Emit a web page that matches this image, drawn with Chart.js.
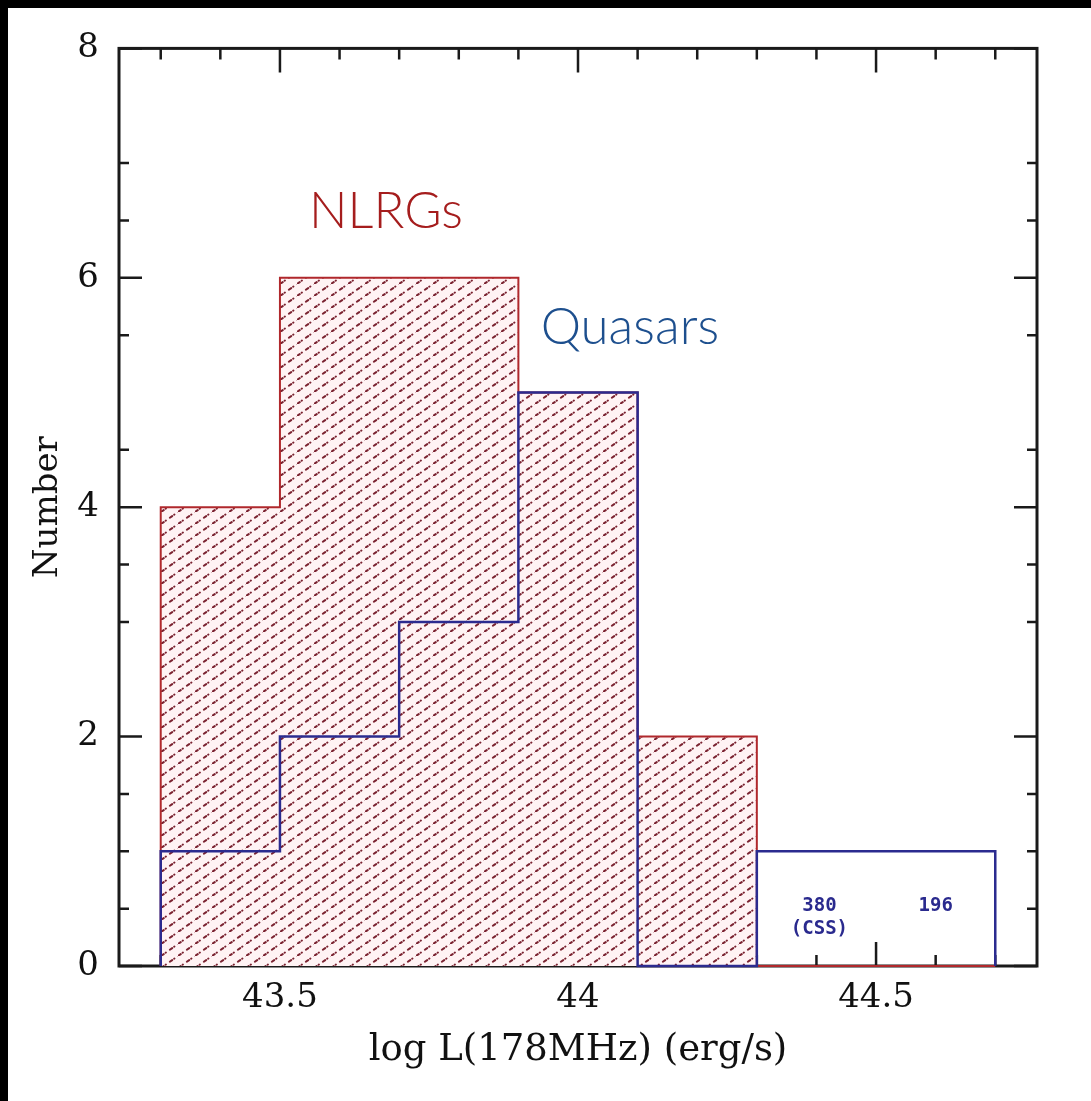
<!DOCTYPE html>
<html>
<head>
<meta charset="utf-8">
<script src="https://cdn.jsdelivr.net/npm/chart.js@4/dist/chart.umd.min.js"></script>
<style>
  html, body { margin: 0; padding: 0; background: #000; }
  #wrap { position: absolute; left: 8px; top: 8px; width: 1083px; height: 1093px; background: #fff; }
</style>
</head>
<body>
<div id="wrap"><canvas id="histo" width="1083" height="1093"></canvas></div>
<script>
// bin edges of the histogram (log L at 178 MHz)
const binEdges = [43.3, 43.5, 43.7, 43.9, 44.1, 44.3, 44.5, 44.7];
// counts per bin
const nlrgCounts = [4, 6, 6, 5, 2, 0, 0];
const quasarCounts = [1, 2, 3, 5, 0, 1, 1];

// axis ticks
const xLabelTicks = [43.5, 44, 44.5];
const xMinorTicks = [43.3, 43.4, 43.6, 43.7, 43.8, 43.9, 44.1, 44.2, 44.3, 44.4, 44.6, 44.7];
const yLabelTicks = [0, 2, 4, 6, 8];
const yMinorTicks = [0.5, 1, 1.5, 3, 3.5, 4.5, 5.5, 6.5, 7];

// notes on the plot
const seriesNotes = [
    { text: 'NLRGs', x: 43.678, y: 6.58, color: '#a51d1d' },
    { text: 'Quasars', x: 44.087, y: 5.57, color: '#1d4f8e' }
];
const sourceNotes = [
    { text: '380', x: 44.405, y: 0.52 },
    { text: '(CSS)', x: 44.405, y: 0.32 },
    { text: '196', x: 44.6, y: 0.52 }
];

// turn counts into step points
function stepPoints(counts) {
    const pts = [{ x: binEdges[0], y: 0 }];
    counts.forEach((c, i) => pts.push({ x: binEdges[i], y: c }));
    pts.push({ x: binEdges[binEdges.length - 1], y: 0 });
    return pts;
}

// dotted diagonal hatch
function makeHatch() {
    const w = 17, h = 12;
    const c = document.createElement('canvas');
    c.width = w; c.height = h;
    const g = c.getContext('2d');
    g.fillStyle = '#fff3f4';
    g.fillRect(0, 0, w, h);
    g.strokeStyle = '#7a2230';
    g.lineWidth = 2;
    g.lineCap = 'round';
    const pieces = [[0.02, 0.16], [0.27, 0.29], [0.52, 0.66], [0.77, 0.79]];
    [-1, 0, 1].forEach(k => {
        pieces.forEach(p => {
            g.beginPath();
            g.moveTo((p[0] + k) * w, h - (p[0] + k) * h);
            g.lineTo((p[1] + k) * w, h - (p[1] + k) * h);
            g.stroke();
        });
    });
    return g.createPattern(c, 'repeat');
}

const frameTicks = {
    id: 'frameTicks',
    beforeDatasetsDraw(chart) {
        const { ctx, chartArea: a, scales: { x, y } } = chart;
        ctx.save();
        ctx.strokeStyle = '#1a1a1a';
        ctx.lineWidth = 3;
        ctx.strokeRect(a.left, a.top, a.right - a.left, a.bottom - a.top);
        ctx.lineWidth = 2.5;
        const xt = (v, len) => {
            const px = x.getPixelForValue(v);
            ctx.beginPath();
            ctx.moveTo(px, a.bottom); ctx.lineTo(px, a.bottom - len);
            ctx.moveTo(px, a.top); ctx.lineTo(px, a.top + len);
            ctx.stroke();
        };
        const yt = (v, len) => {
            const py = y.getPixelForValue(v);
            ctx.beginPath();
            ctx.moveTo(a.left, py); ctx.lineTo(a.left + len, py);
            ctx.moveTo(a.right, py); ctx.lineTo(a.right - len, py);
            ctx.stroke();
        };
        xLabelTicks.forEach(v => xt(v, 24));
        xMinorTicks.forEach(v => xt(v, 11));
        yLabelTicks.forEach(v => yt(v, 23));
        yMinorTicks.forEach(v => yt(v, 10));
        ctx.restore();
    },
    afterDatasetsDraw(chart) {
        const { ctx, scales: { x, y } } = chart;
        ctx.save();
        ctx.textAlign = 'center';
        ctx.textBaseline = 'middle';
        ctx.font = '300 51px Lato';
        seriesNotes.forEach(n => {
            ctx.fillStyle = n.color;
            ctx.fillText(n.text, x.getPixelForValue(n.x), y.getPixelForValue(n.y));
        });
        ctx.font = 'bold 19px "DejaVu Sans Mono"';
        ctx.fillStyle = '#2a2a8e';
        sourceNotes.forEach(n => {
            ctx.fillText(n.text, x.getPixelForValue(n.x), y.getPixelForValue(n.y));
        });
        ctx.restore();
    }
};

const labelFont = { family: '"DejaVu Serif"', size: 34 };

new Chart(document.getElementById('histo'), {
    type: 'line',
    data: {
        datasets: [{
            label: 'NLRGs',
            data: stepPoints(nlrgCounts),
            order: 2,
            stepped: 'before',
            borderColor: '#b0282c',
            borderWidth: 2,
            backgroundColor: makeHatch(),
            fill: 'origin',
            clip: 4,
            pointRadius: 0
        }, {
            label: 'Quasars',
            data: stepPoints(quasarCounts),
            order: 1,
            stepped: 'before',
            borderColor: '#2b2b8f',
            borderWidth: 2.5,
            fill: false,
            clip: 4,
            pointRadius: 0
        }]
    },
    options: {
        responsive: false,
        animation: false,
        layout: { padding: { top: 38, right: 54, left: 0, bottom: 0 } },
        plugins: {
            legend: { display: false },
            tooltip: { enabled: false }
        },
        scales: {
            x: {
                type: 'linear',
                min: 43.23,
                max: 44.77,
                afterFit(s) { s.height = 135; },
                afterBuildTicks(s) { s.ticks = xLabelTicks.map(v => ({ value: v })); },
                grid: { display: false, drawTicks: false },
                border: { display: false },
                ticks: {
                    padding: 12,
                    color: '#111',
                    font: labelFont,
                    maxRotation: 0,
                    callback: v => String(v)
                },
                title: {
                    display: true,
                    text: 'log L(178MHz) (erg/s)',
                    color: '#111',
                    font: { family: '"DejaVu Serif"', size: 37 },
                    padding: { top: 0, bottom: 28 }
                }
            },
            y: {
                min: 0,
                max: 8,
                afterFit(s) { s.width = 111; },
                afterBuildTicks(s) { s.ticks = yLabelTicks.map(v => ({ value: v })); },
                grid: { display: false, drawTicks: false },
                border: { display: false },
                ticks: {
                    padding: 20,
                    color: '#111',
                    font: labelFont,
                    callback: v => String(v)
                },
                title: {
                    display: true,
                    text: 'Number',
                    color: '#111',
                    font: labelFont,
                    padding: { top: 20, bottom: 0 }
                }
            }
        }
    },
    plugins: [frameTicks]
});
</script>
</body>
</html>
